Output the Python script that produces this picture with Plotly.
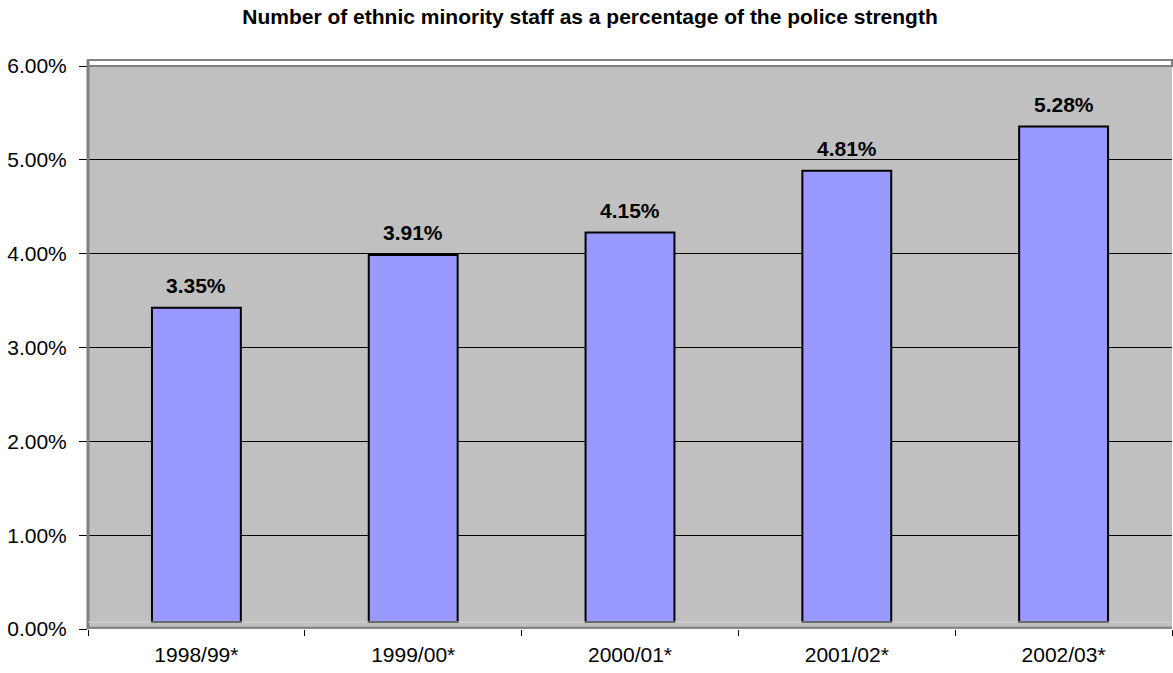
import plotly.graph_objects as go

categories = ["1998/99*", "1999/00*", "2000/01*", "2001/02*", "2002/03*"]
values = [3.35, 3.91, 4.15, 4.81, 5.28]
y_ticks = [0, 1, 2, 3, 4, 5, 6]
y_tick_labels = ["0.00%", "1.00%", "2.00%", "3.00%", "4.00%", "5.00%", "6.00%"]
title_text = "Number of ethnic minority staff as a percentage of the police strength"

FONT = "Liberation Sans, Arial, sans-serif"
FS = 21
W, H = 1173, 673
ML, MR, MT, MB = 88, 1, 66, 44
plot_h = H - MT - MB
depth_px = 7
shift = depth_px * 6 / plot_h

fig = go.Figure()
# invisible trace to anchor the primary value axis (gridlines & tick labels)
fig.add_trace(go.Scatter(
    x=categories, y=values, yaxis="y", mode="markers",
    marker=dict(opacity=0), showlegend=False, hoverinfo="skip",
))
fig.add_trace(go.Bar(
    x=categories, y=values, yaxis="y2",
    marker=dict(color="#9999FF", line=dict(color="black", width=2)),
    width=0.41, showlegend=False, hoverinfo="x+y",
))

annotations = []
for c, v in zip(categories, values):
    annotations.append(dict(
        x=c, y=v, xref="x", yref="y2", text=f"<b>{v:.2f}%</b>",
        showarrow=False, yanchor="bottom", yshift=9,
        font=dict(family=FONT, size=FS, color="black"),
    ))

shapes = [
    dict(type="rect", xref="paper", yref="paper", x0=0, x1=1, y0=1, y1=1 + 6 / plot_h,
         fillcolor="white", line=dict(color="#808080", width=2), layer="below"),
    dict(type="line", xref="paper", yref="paper", x0=0, x1=0, y0=0, y1=1 + 6 / plot_h,
         line=dict(color="#808080", width=3)),
    dict(type="line", xref="paper", yref="paper", x0=0, x1=1, y0=depth_px / plot_h, y1=depth_px / plot_h,
         line=dict(color="#D4D4D4", width=1)),
    dict(type="line", xref="paper", yref="paper", x0=0, x1=1, y0=0.002, y1=0.002,
         line=dict(color="#808080", width=2)),
]

fig.update_layout(
    width=W, height=H,
    margin=dict(l=ML, r=MR, t=MT, b=MB, pad=0),
    paper_bgcolor="white", plot_bgcolor="#C0C0C0",
    font=dict(family=FONT, size=FS, color="black"),
    title=dict(text=f"<b>{title_text}</b>", x=0.503, xanchor="center",
               y=1 - 17 / H, yanchor="middle",
               font=dict(family=FONT, size=FS, color="black")),
    xaxis=dict(
        type="category", showgrid=False, ticks="outside", tickson="boundaries",
        ticklen=6, tickcolor="black", tickwidth=1,
        showline=False, tickfont=dict(size=FS), ticklabelstandoff=11,
    ),
    yaxis=dict(
        range=[0, 6], tickvals=y_ticks, ticktext=y_tick_labels,
        showgrid=True, gridcolor="black", gridwidth=1,
        ticks="outside", ticklen=8, tickcolor="black", tickwidth=1,
        showline=False, zeroline=False, tickfont=dict(size=FS), ticklabelstandoff=8,
    ),
    yaxis2=dict(range=[-shift, 6 - shift], overlaying="y", visible=False),
    annotations=annotations,
    shapes=shapes,
    bargap=0.59,
)

fig.write_html("out.html")
